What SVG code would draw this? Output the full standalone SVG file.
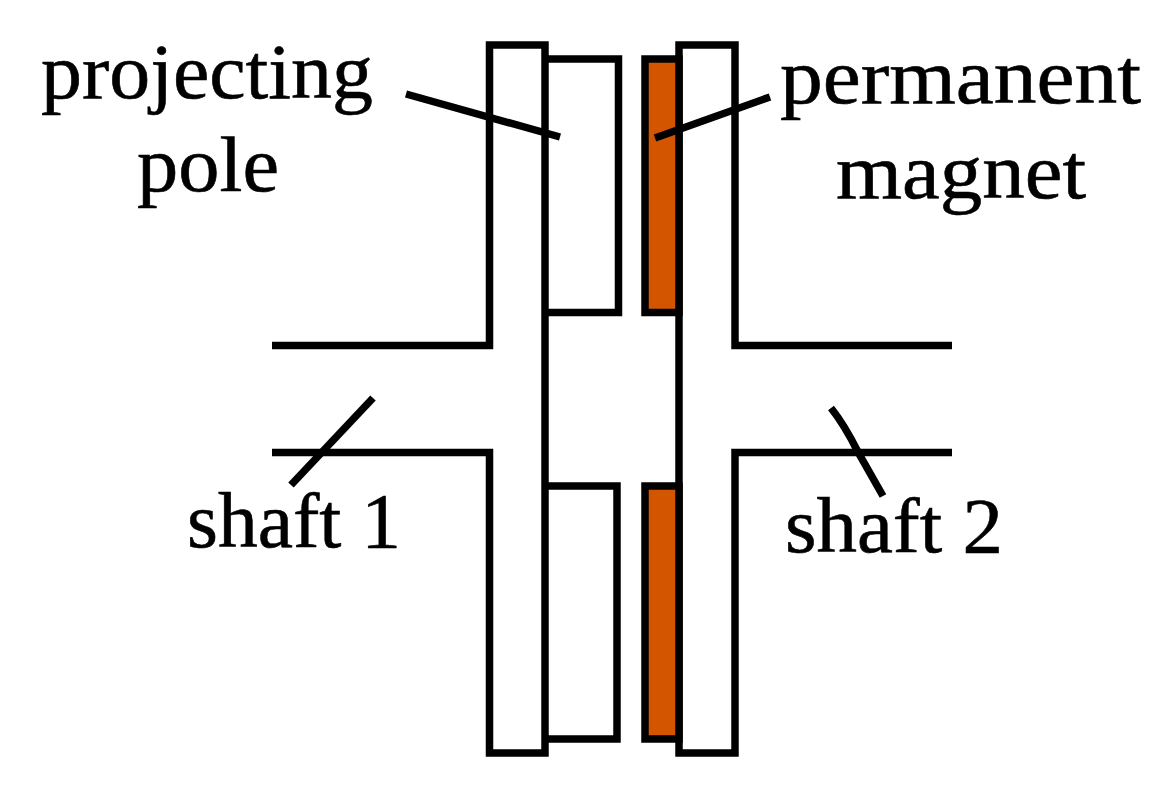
<svg xmlns="http://www.w3.org/2000/svg" width="1150" height="795" viewBox="0 0 1150 795">
<style>
.l{fill:none;stroke:#000;stroke-width:7.5;stroke-linejoin:miter}
.m{fill:#d45500;stroke:#000;stroke-width:7.5}
text{font-family:"Liberation Serif","DejaVu Serif",serif;font-size:79px;fill:#000;stroke:#000;stroke-width:.6}
</style>
<rect width="1150" height="795" fill="#fff"/>
<g id="shaft1-body"><path class="l" d="M272 345.500H489.500V45H545V753H489.500V452.500H272"/></g>
<g id="shaft2-body"><path class="l" d="M952 345.500H735V45H679V753H735V452.500H952"/></g>
<g id="pole-top"><path class="l" d="M545 59H618.500V312.500H545"/></g>
<g id="pole-bottom"><path class="l" d="M545 486H617V739H545"/></g>
<g id="magnet-top"><rect class="m" x="645" y="59" width="34" height="253.500"/></g>
<g id="magnet-bottom"><rect class="m" x="645" y="486" width="34" height="253"/></g>
<g id="connectors">
<path class="l" d="M406 94L560 137"/>
<path class="l" d="M770 97L655 138"/>
<path class="l" d="M373 398L291 485"/>
<path class="l" d="M831 408C843 423 851 438 858 452L883 496"/>
</g>
<g id="labels">
<text x="41" y="98" textLength="332" lengthAdjust="spacingAndGlyphs">projecting</text>
<text x="137" y="191" textLength="142" lengthAdjust="spacingAndGlyphs">pole</text>
<text x="780" y="103" textLength="361" lengthAdjust="spacingAndGlyphs">permanent</text>
<text x="836" y="198" textLength="250" lengthAdjust="spacingAndGlyphs">magnet</text>
<text x="187" y="547" textLength="214" lengthAdjust="spacingAndGlyphs">shaft 1</text>
<text x="785" y="552" textLength="218" lengthAdjust="spacingAndGlyphs">shaft 2</text>
</g>
</svg>
